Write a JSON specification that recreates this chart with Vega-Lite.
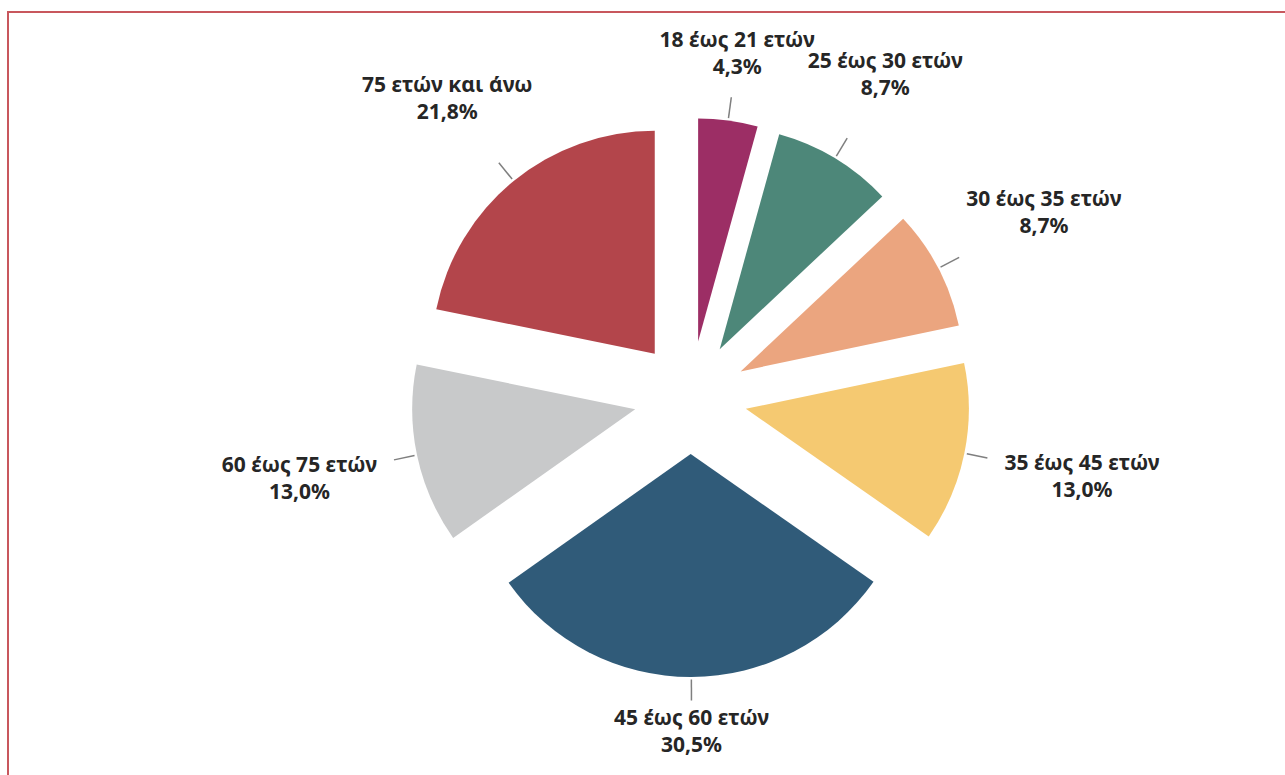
{
  "$schema": "https://vega.github.io/schema/vega-lite/v6.json",
  "width": 1281,
  "height": 767,
  "padding": {"left": 8, "top": 12, "right": -4, "bottom": -4},
  "autosize": {"type": "none"},
  "background": "white",
  "config": {
    "view": {"stroke": "#C8575D", "strokeWidth": 2},
    "locale": {"number": {"decimal": ",", "thousands": ".", "grouping": [3], "currency": ["", " €"]}}
  },
  "data": {
    "values": [
      {"category": "18 έως 21 ετών", "value": 0.043, "order": 1},
      {"category": "25 έως 30 ετών", "value": 0.087, "order": 2},
      {"category": "30 έως 35 ετών", "value": 0.087, "order": 3},
      {"category": "35 έως 45 ετών", "value": 0.130, "order": 4},
      {"category": "45 έως 60 ετών", "value": 0.305, "order": 5},
      {"category": "60 έως 75 ετών", "value": 0.130, "order": 6},
      {"category": "75 ετών και άνω", "value": 0.218, "order": 7}
    ]
  },
  "transform": [
    {"stack": "value", "groupby": [], "sort": [{"field": "order", "order": "ascending"}], "as": ["v0", "v1"]},
    {"calculate": "(datum.v0 + datum.v1) * PI", "as": "mid"},
    {"calculate": "sin(datum.mid)", "as": "ux"},
    {"calculate": "cos(datum.mid)", "as": "uy"},
    {"calculate": "56.5 * datum.ux", "as": "cx"},
    {"calculate": "56.5 * datum.uy", "as": "cy"},
    {"calculate": "308 + 88 * abs(datum.ux) + 27 * abs(datum.uy)", "as": "lr"},
    {"calculate": "datum.lr * datum.ux", "as": "lx"},
    {"calculate": "datum.lr * datum.uy", "as": "ly"},
    {"calculate": "282 * datum.ux", "as": "ax"},
    {"calculate": "282 * datum.uy", "as": "ay"},
    {"calculate": "303 * datum.ux", "as": "bx"},
    {"calculate": "303 * datum.uy", "as": "by"}
  ],
  "layer": [
    {
      "mark": {"type": "arc", "radius": 223, "stroke": null},
      "encoding": {
        "theta": {"field": "v0", "type": "quantitative", "scale": {"type": "linear", "domain": [0, 1], "range": [0, 6.283185307179586]}},
        "theta2": {"field": "v1"},
        "x": {"field": "cx", "type": "quantitative", "scale": {"domain": [-682.5, 598.5], "nice": false, "zero": false}, "axis": null},
        "y": {"field": "cy", "type": "quantitative", "scale": {"domain": [-381.5, 385.5], "nice": false, "zero": false}, "axis": null},
        "color": {
          "field": "category", "type": "nominal", "legend": null,
          "scale": {
            "domain": ["18 έως 21 ετών", "25 έως 30 ετών", "30 έως 35 ετών", "35 έως 45 ετών", "45 έως 60 ετών", "60 έως 75 ετών", "75 ετών και άνω"],
            "range": ["#9C2E65", "#4D8779", "#EBA57F", "#F5C971", "#305B79", "#C8C9CA", "#B3454B"]
          }
        }
      }
    },
    {
      "mark": {"type": "rule", "color": "#7F7F7F", "strokeWidth": 1.5},
      "encoding": {
        "x": {"field": "ax", "type": "quantitative"},
        "y": {"field": "ay", "type": "quantitative"},
        "x2": {"field": "bx"},
        "y2": {"field": "by"}
      }
    },
    {
      "mark": {"type": "text", "font": "Noto Sans", "fontWeight": "bold", "fontSize": 21, "color": "#262626", "align": "center", "baseline": "middle", "dy": -13.5},
      "encoding": {
        "x": {"field": "lx", "type": "quantitative"},
        "y": {"field": "ly", "type": "quantitative"},
        "text": {"field": "category", "type": "nominal"}
      }
    },
    {
      "mark": {"type": "text", "font": "Noto Sans", "fontWeight": "bold", "fontSize": 21, "color": "#262626", "align": "center", "baseline": "middle", "dy": 13.5},
      "encoding": {
        "x": {"field": "lx", "type": "quantitative"},
        "y": {"field": "ly", "type": "quantitative"},
        "text": {"field": "value", "type": "quantitative", "format": ".1%"}
      }
    }
  ]
}
